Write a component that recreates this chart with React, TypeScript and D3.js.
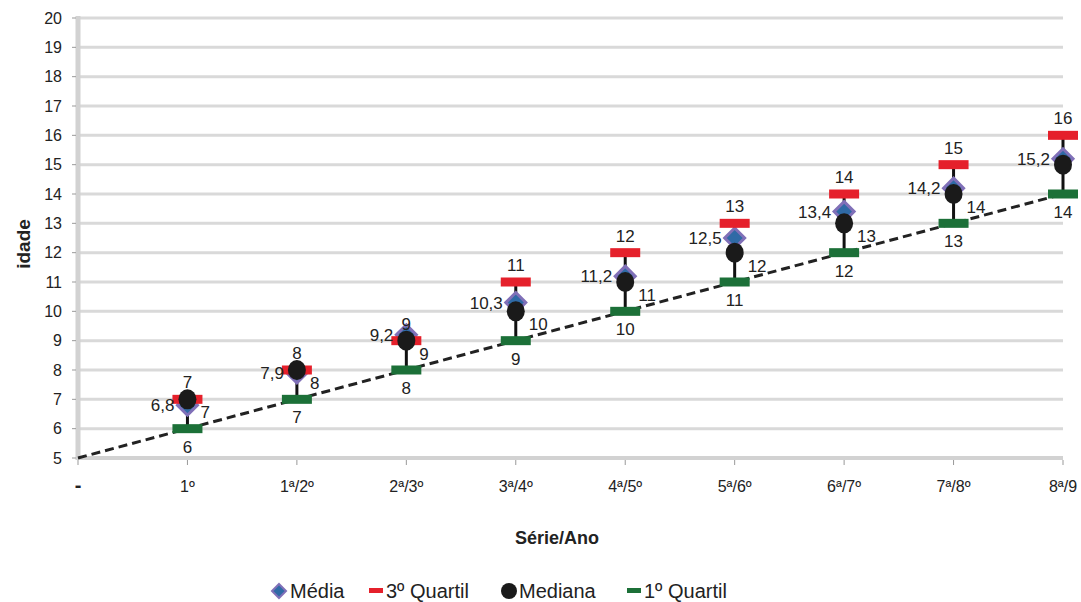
import React from "react";
import * as d3 from "d3";

const categories = ["-", "1º", "1ª/2º", "2ª/3º", "3ª/4º", "4ª/5º", "5ª/6º", "6ª/7º", "7ª/8º", "8ª/9"];
const seriesCats = ["1º", "1ª/2º", "2ª/3º", "3ª/4º", "4ª/5º", "5ª/6º", "6ª/7º", "7ª/8º", "8ª/9"];
const media = [6.8, 7.9, 9.2, 10.3, 11.2, 12.5, 13.4, 14.2, 15.2];
const quartil3 = [7, 8, 9, 11, 12, 13, 14, 15, 16];
const mediana = [7, 8, 9, 10, 11, 12, 13, 14, 15];
const quartil1 = [6, 7, 8, 9, 10, 11, 12, 13, 14];
const idealCats = ["-", "8ª/9"];
const idealAges = [5, 14];
const yTicks = d3.range(5, 21);

const fmt = (v: number) => String(v).replace(".", ",");
const diamondPath = (r: number) => `M0,${-r}L${r},0L0,${r}L${-r},0Z`;

export default function App() {
  const W = 1081, H = 602;
  const left = 78, right = 1063, top = 18, bottom = 458;
  const x = d3.scalePoint<string>().domain(categories).range([left, right]);
  const y = d3.scaleLinear().domain([5, 20]).range([bottom, top]);
  const font = "Arial, 'Liberation Sans', sans-serif";
  const line = d3.line<number>().x((_, i) => x(idealCats[i])!).y((d) => y(d));

  return (
    <svg width={W} height={H} style={{ position: "absolute", left: 0, top: 0 }} fontFamily={font}>
      <rect width={W} height={H} fill="#fff" />
      {yTicks.map((t) => (
        <line key={"g" + t} x1={left} x2={right} y1={y(t)} y2={y(t)} stroke="#d9d9d9" strokeWidth={3} />
      ))}
      <line x1={left} x2={left} y1={top - 2} y2={bottom + 2} stroke="#d2d2d2" strokeWidth={5} />
      <line x1={left - 2} x2={right} y1={bottom} y2={bottom} stroke="#d2d2d2" strokeWidth={4} />
      {yTicks.map((t) => (
        <g key={"yt" + t}>
          <line x1={left - 6} x2={left - 2} y1={y(t)} y2={y(t)} stroke="#999" strokeWidth={1} />
          <text x={62} y={y(t)} dy="0.35em" textAnchor="end" fontSize={16} fill="#222">
            {t}
          </text>
        </g>
      ))}
      {categories.map((c, i) => (
        <g key={"xt" + c}>
          <line x1={x(c)} x2={x(c)} y1={bottom + 2} y2={bottom + 7} stroke="#999" strokeWidth={1} />
          <text
            x={x(c)}
            y={492}
            textAnchor="middle"
            fontSize={i === 0 ? 20 : 16}
            fontWeight={i === 0 ? "bold" : "normal"}
            fill="#222"
          >
            {c}
          </text>
        </g>
      ))}
      <text x={557} y={544} textAnchor="middle" fontSize={18} fontWeight="bold" fill="#222">
        Série/Ano
      </text>
      <text transform={`translate(30,244) rotate(-90)`} textAnchor="middle" fontSize={19} fontWeight="bold" fill="#222">
        idade
      </text>
      <path d={line(idealAges) as string} fill="none" stroke="#222" strokeWidth={3} strokeDasharray="9,5" />
      {seriesCats.map((c, i) => (
        <line key={"eb" + c} x1={x(c)} x2={x(c)} y1={y(quartil1[i])} y2={y(quartil3[i])} stroke="#111" strokeWidth={3} />
      ))}
      {seriesCats.map((c, i) => (
        <path
          key={"md" + c}
          d={diamondPath(10)}
          transform={`translate(${x(c)},${y(media[i])})`}
          fill="#2f6aa6"
          stroke="#8070b8"
          strokeWidth={3}
        />
      ))}
      {seriesCats.map((c, i) => (
        <rect key={"q3" + c} x={x(c)! - 15} y={y(quartil3[i]) - 4.5} width={30} height={9} fill="#e5202b" />
      ))}
      {seriesCats.map((c, i) => (
        <ellipse key={"me" + c} cx={x(c)} cy={y(mediana[i])} rx={9} ry={10} fill="#1a1a1a" />
      ))}
      {seriesCats.map((c, i) => (
        <rect key={"q1" + c} x={x(c)! - 15} y={y(quartil1[i]) - 4.5} width={30} height={9} fill="#1c7038" />
      ))}
      {seriesCats.map((c, i) => (
        <g key={"lb" + c} fontSize={17} fill="#222">
          <text x={x(c)} y={y(quartil3[i]) - 11} textAnchor="middle">
            {fmt(quartil3[i])}
          </text>
          <text x={x(c)! - 13} y={y(media[i]) + 6} textAnchor="end">
            {fmt(media[i])}
          </text>
          {i < seriesCats.length - 1 && (
            <text x={x(c)! + 13} y={y(mediana[i]) + 19} textAnchor="start">
              {fmt(mediana[i])}
            </text>
          )}
          <text x={x(c)} y={y(quartil1[i]) + 24} textAnchor="middle">
            {fmt(quartil1[i])}
          </text>
        </g>
      ))}
      <g fontSize={20} fill="#222">
        <path d={diamondPath(7)} transform="translate(279,591)" fill="#2f6aa6" stroke="#8070b8" strokeWidth={2} />
        <text x={290} y={598}>Média</text>
        <rect x={369} y={588} width={14} height={5} fill="#e5202b" />
        <text x={386} y={598}>3º Quartil</text>
        <circle cx={509} cy={591} r={8} fill="#1a1a1a" />
        <text x={519} y={598}>Mediana</text>
        <rect x={627} y={588} width={14} height={5} fill="#1c7038" />
        <text x={644} y={598}>1º Quartil</text>
      </g>
    </svg>
  );
}
